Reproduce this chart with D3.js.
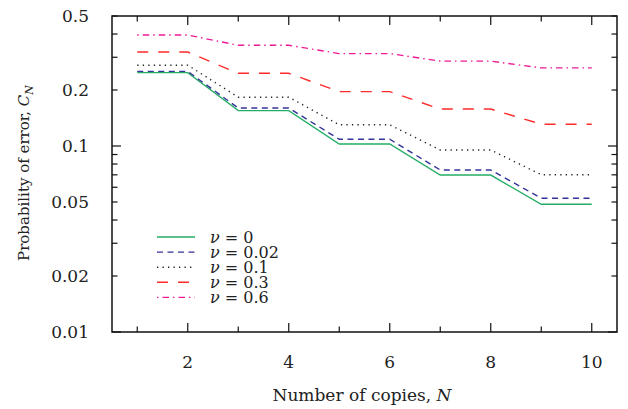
<!DOCTYPE html>
<html><head><meta charset="utf-8">
<script src="https://cdn.jsdelivr.net/npm/d3@7"></script>
<style>body{margin:0;background:#fff}svg{display:block}text{font-family:"DejaVu Serif","Liberation Serif",serif;fill:#222}</style>
</head><body><svg id="c" width="628" height="409"></svg>
<script>
const copies = [1,2,3,4,5,6,7,8,9,10];
const nu0   = [0.248,0.248,0.155,0.155,0.1025,0.1025,0.0698,0.0698,0.0486,0.0486];
const nu002 = [0.252,0.252,0.160,0.160,0.1087,0.1087,0.0743,0.0743,0.0524,0.0524];
const nu01  = [0.272,0.272,0.183,0.183,0.130,0.130,0.0952,0.0952,0.0701,0.0701];
const nu03  = [0.320,0.320,0.246,0.246,0.196,0.196,0.158,0.158,0.131,0.131];
const nu06  = [0.395,0.395,0.348,0.348,0.314,0.314,0.286,0.286,0.263,0.263];
const seriesNames = ["0","0.02","0.1","0.3","0.6"];
const xTickLabels = [2,4,6,8,10];
const yTickLabels = [0.01,0.02,0.05,0.1,0.2,0.5];

const series = [
  {name:seriesNames[0], values:nu0,   color:"#25ad66", dash:null},
  {name:seriesNames[1], values:nu002, color:"#33339a", dash:"6,4.5"},
  {name:seriesNames[2], values:nu01,  color:"#222",    dash:"1.3,4.2"},
  {name:seriesNames[3], values:nu03,  color:"#ff2b2b", dash:"11,10"},
  {name:seriesNames[4], values:nu06,  color:"#ee1b96", dash:"1.5,4,6.5,4"}
];

const svg = d3.select("#c");
const L=112, R=617, T=16, B=332;
const x = d3.scaleLinear().domain([0.5,10.5]).range([L,R]);
const y = d3.scaleLog().domain([0.01,0.5]).range([B,T]);

const line = d3.line().x((d,i)=>x(copies[i])).y(d=>y(d));
series.forEach(s=>{
  svg.append("path").attr("d",line(s.values)).attr("fill","none")
    .attr("stroke",s.color).attr("stroke-width",1.4)
    .attr("stroke-dasharray",s.dash);
});

const g = svg.append("g").attr("stroke","#111").attr("stroke-width",1.2);
copies.forEach(v=>{
  const len = xTickLabels.includes(v)?9:5.5;
  g.append("line").attr("x1",x(v)).attr("x2",x(v)).attr("y1",B).attr("y2",B-len);
  g.append("line").attr("x1",x(v)).attr("x2",x(v)).attr("y1",T).attr("y2",T+len);
});
const yTicks=[];
[0.01,0.1].forEach(dec=>{for(let k=1;k<10;k++){const v=dec*k; if(v<=0.5+1e-9) yTicks.push(v);}});
yTicks.forEach(v=>{
  const major = Math.abs(v-0.01)<1e-9||Math.abs(v-0.1)<1e-9;
  const len = major?9:5.5;
  g.append("line").attr("y1",y(v)).attr("y2",y(v)).attr("x1",L).attr("x2",L+len);
  g.append("line").attr("y1",y(v)).attr("y2",y(v)).attr("x1",R).attr("x2",R-len);
});
svg.append("rect").attr("x",L).attr("y",T).attr("width",R-L).attr("height",B-T)
  .attr("fill","none").attr("stroke","#111").attr("stroke-width",1.5);

xTickLabels.forEach(v=>{
  svg.append("text").attr("x",x(v)).attr("y",B+36).attr("text-anchor","middle")
    .attr("font-size",17).text(v);
});
yTickLabels.forEach(v=>{
  svg.append("text").attr("x",89).attr("y",y(v)+6).attr("text-anchor","end")
    .attr("font-size",17).text(v);
});

svg.append("text").attr("x",362).attr("y",401).attr("text-anchor","middle").attr("font-size",17)
  .html('Number of copies, <tspan font-style="italic">N</tspan>');
svg.append("text").attr("transform","translate(29,173) rotate(-90)").attr("text-anchor","middle").attr("font-size",15)
  .html('Probability of error, <tspan font-style="italic">C</tspan><tspan font-style="italic" font-size="11" dy="3.5">N</tspan>');

series.forEach((s,i)=>{
  const yy = 237 + i*15.1;
  svg.append("line").attr("x1",157).attr("x2",195).attr("y1",yy).attr("y2",yy)
    .attr("stroke",s.color).attr("stroke-width",1.4).attr("stroke-dasharray",s.dash);
  svg.append("text").attr("x",210).attr("y",yy+6).attr("font-size",16)
    .html('<tspan font-style="italic">ν</tspan> = '+s.name);
});
</script></body></html>
